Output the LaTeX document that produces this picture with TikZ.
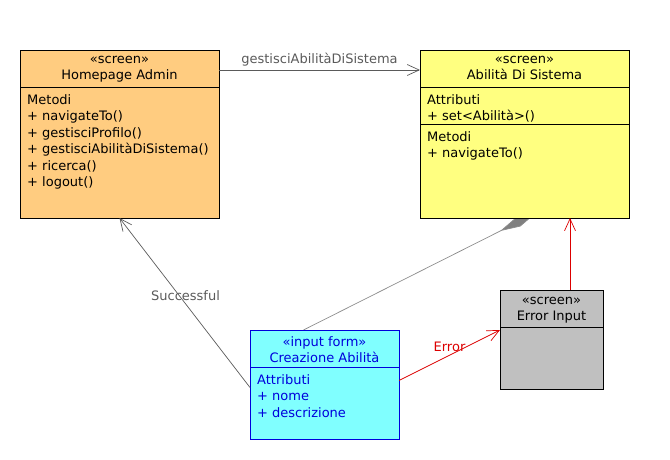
\documentclass[tikz,border=0pt]{standalone}
\usepackage{fontspec}
\setmainfont{DejaVu Sans}
\usetikzlibrary{arrows.meta,calc,backgrounds}
\definecolor{homefill}{RGB}{255,204,128}
\definecolor{abilfill}{RGB}{255,255,128}
\definecolor{creafill}{RGB}{128,255,255}
\definecolor{errfill}{RGB}{192,192,192}
\definecolor{formblue}{RGB}{0,0,220}
\definecolor{linkgray}{RGB}{90,90,90}
\definecolor{errred}{RGB}{220,0,0}
\begin{document}
\begin{tikzpicture}[x=1pt,y=-1pt,>={Straight Barb[length=12pt,width=11pt]},
    font=\fontsize{13}{16.5}\selectfont,
    classbox/.style={draw,line width=0.8pt,anchor=north west,inner sep=0pt,outer sep=0pt},
    head/.style={anchor=north,align=center,inner sep=0pt},
    body/.style={anchor=north west,align=left,inner sep=0pt},
    link/.style={->,line width=0.7pt,draw=linkgray}]
  \useasboundingbox (0,0) rectangle (670,460);
  % classes
  \node[classbox,fill=homefill,minimum width=199pt,minimum height=168pt] (home) at (20,50) {};
  \node[head] (homehead) at ($(home.north)+(0,6)$) {«screen»\\Homepage Admin};
  \draw[line width=0.8pt] ($(home.north west)+(0,37)$) -- ($(home.north east)+(0,37)$);
  \node[body] (homebody) at ($(home.north west)+(7,44)$) {Metodi\\+ navigateTo()\\+ gestisciProfilo()\\+ gestisciAbilitàDiSistema()\\+ ricerca()\\+ logout()};

  \node[classbox,fill=abilfill,minimum width=209pt,minimum height=168pt] (abil) at (420,50) {};
  \node[head] (abilhead) at ($(abil.north)+(0,6)$) {«screen»\\Abilità Di Sistema};
  \draw[line width=0.8pt] ($(abil.north west)+(0,37)$) -- ($(abil.north east)+(0,37)$);
  \draw[line width=0.8pt] ($(abil.north west)+(0,74)$) -- ($(abil.north east)+(0,74)$);
  \node[body] (abilattr) at ($(abil.north west)+(7,44)$) {Attributi\\+ set<Abilità>()};
  \node[body] (abilmeth) at ($(abil.north west)+(7,81)$) {Metodi\\+ navigateTo()};

  \node[classbox,fill=creafill,draw=formblue,minimum width=149pt,minimum height=109pt] (crea) at (250,330) {};
  \node[head,text=formblue] (creahead) at ($(crea.north)+(0,6)$) {«input form»\\Creazione Abilità};
  \draw[line width=0.8pt,formblue] ($(crea.north west)+(0,37)$) -- ($(crea.north east)+(0,37)$);
  \node[body,text=formblue] (creaattr) at ($(crea.north west)+(7,44)$) {Attributi\\+ nome\\+ descrizione};

  \node[classbox,fill=errfill,minimum width=103pt,minimum height=99pt] (err) at (500,290) {};
  \node[head] (errhead) at ($(err.north)+(0,7)$) {«screen»\\Error Input};
  \draw[line width=0.8pt] ($(err.north west)+(0,37)$) -- ($(err.north east)+(0,37)$);

  % links
  \draw[link] ($(home.north east)+(0,20)$) -- ($(abil.north west)+(0,20)$)
    node[midway,above,inner sep=3pt,text=linkgray] {gestisciAbilitàDiSistema};
  \draw[link] ($(crea.west)+(0,3)$) -- (home.south)
    node[pos=0.54,xshift=6pt,text=linkgray] {Successful};
  \begin{scope}[on background layer]
    \draw[draw=gray!90,line width=0.7pt,-{Diamond[length=40pt,width=10pt,fill=gray]}]
      ($(crea.north)+(-21,0)$) -- ($(abil.south west)+(116,-5)$);
  \end{scope}
  \draw[link,draw=errred] ($(err.north west)+(70,0)$) -- ($(abil.south west)+(150,0)$);
  \draw[link,draw=errred] ($(crea.east)+(0,-4)$) -- ($(err.north west)+(0,40)$)
    node[midway,yshift=8pt,text=errred] {Error};
\end{tikzpicture}
\end{document}
